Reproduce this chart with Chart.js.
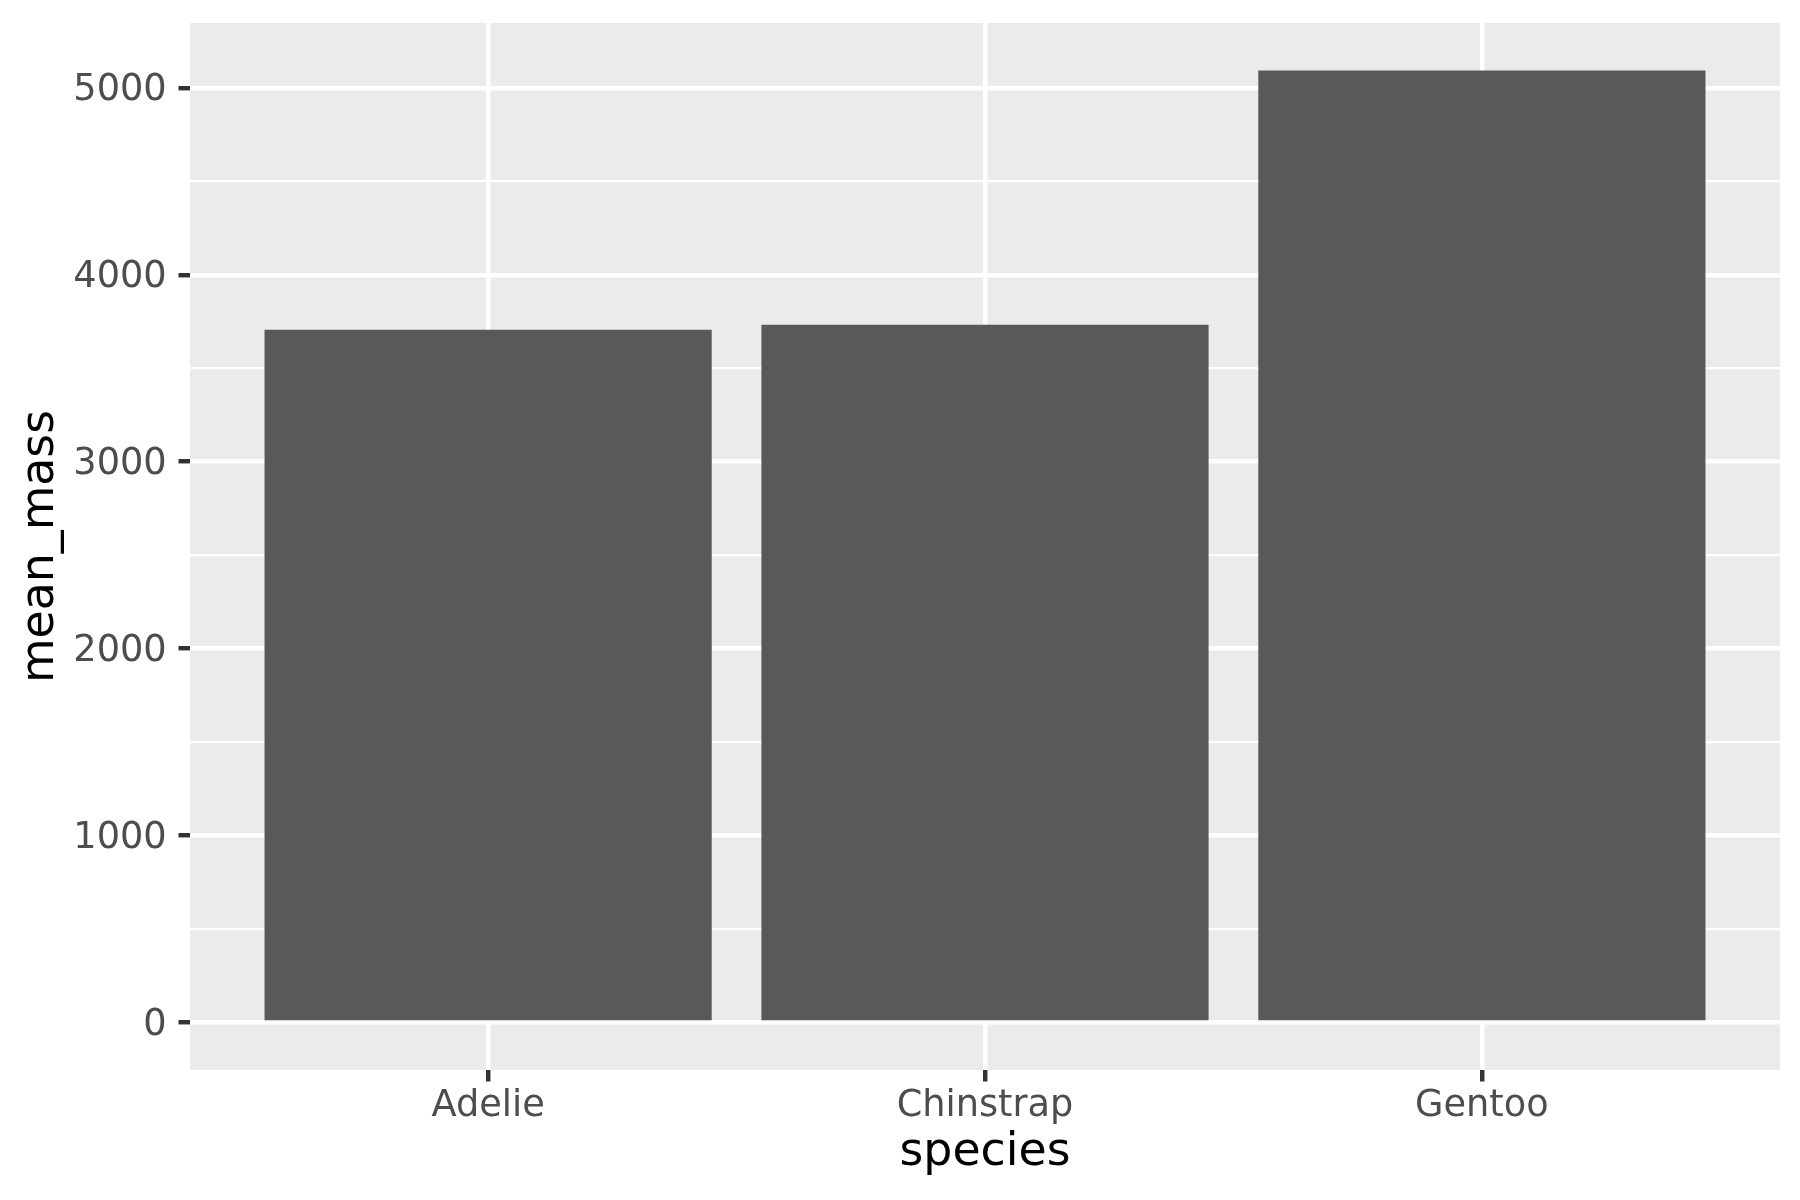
<!DOCTYPE html>
<html>
<head>
<meta charset="utf-8">
<script src="https://cdn.jsdelivr.net/npm/chart.js@4"></script>
<style>
  html, body { margin: 0; padding: 0; background: #ffffff; }
  #wrap { width: 1800px; height: 1200px; }
</style>
</head>
<body>
<div id="wrap"><canvas id="c" width="1800" height="1200"></canvas></div>
<script>
// ---- data ----
const categories = ["Adelie", "Chinstrap", "Gentoo"];
const meanMass = [3706.16, 3733.09, 5092.44];
const yMajorTicks = [0, 1000, 2000, 3000, 4000, 5000];
const yMinorTicks = [500, 1500, 2500, 3500, 4500];
const xTitle = "species";
const yTitle = "mean_mass";

// ggplot-style expansion
const yMaxData = Math.max(...meanMass);
const yMinLim = 0 - 0.05 * yMaxData;
const yMaxLim = yMaxData + 0.05 * yMaxData;

const FONT = "'DejaVu Sans', sans-serif";
const PANEL_BG = "#EBEBEB";
const BAR = "#595959";
const MAJOR_W = 4.45, MINOR_W = 2.22;

const panelBg = {
  id: 'panelBg',
  beforeDraw(chart) {
    const {ctx, chartArea: a} = chart;
    ctx.save();
    ctx.fillStyle = PANEL_BG;
    ctx.fillRect(a.left, a.top, a.right - a.left, a.bottom - a.top);
    ctx.restore();
  }
};

const isMajorY = v => yMajorTicks.includes(v);

new Chart(document.getElementById('c'), {
  type: 'bar',
  data: {
    datasets: [{
      data: categories.map((c, i) => ({x: i, y: meanMass[i]})),
      backgroundColor: BAR,
      borderWidth: 0,
      barPercentage: 0.9,
      categoryPercentage: 1.0
    }]
  },
  options: {
    responsive: false,
    animation: false,
    devicePixelRatio: 1,
    layout: { padding: { top: 23, right: 20, left: 0, bottom: 0 } },
    plugins: { legend: { display: false }, tooltip: { enabled: false } },
    scales: {
      x: {
        type: 'linear',
        offset: false,
        min: -0.6,
        max: categories.length - 1 + 0.6,
        afterBuildTicks(scale) { scale.ticks = categories.map((c, i) => ({value: i})); },
        afterFit(scale) { scale.height = 130; scale.paddingLeft = 0; scale.paddingRight = 0; },
        border: { display: false },
        grid: {
          offset: false,
          color: '#FFFFFF',
          lineWidth: MAJOR_W,
          drawTicks: true,
          tickLength: 11.5,
          tickColor: '#333333',
          tickWidth: MAJOR_W
        },
        ticks: {
          autoSkip: false,
          maxRotation: 0,
          padding: 3,
          color: '#4D4D4D',
          font: { family: FONT, size: 36.7 },
          callback: v => categories[v] ?? ''
        },
        title: {
          display: true,
          text: xTitle,
          color: '#000000',
          font: { family: FONT, size: 45.8 },
          padding: { top: 0, bottom: 19 }
        }
      },
      y: {
        type: 'linear',
        min: yMinLim,
        max: yMaxLim,
        afterBuildTicks(scale) {
          scale.ticks = [...yMajorTicks, ...yMinorTicks].sort((a, b) => a - b).map(v => ({value: v}));
        },
        afterFit(scale) { scale.width = 190; scale.paddingTop = 0; scale.paddingBottom = 0; },
        border: { display: false },
        grid: {
          color: '#FFFFFF',
          lineWidth: ctx => isMajorY(ctx.tick.value) ? MAJOR_W : MINOR_W,
          drawTicks: true,
          tickLength: 11.5,
          tickColor: ctx => isMajorY(ctx.tick.value) ? '#333333' : 'rgba(0,0,0,0)',
          tickWidth: MAJOR_W
        },
        ticks: {
          autoSkip: false,
          padding: 11.8,
          labelOffset: 3,
          color: '#4D4D4D',
          font: { family: FONT, size: 36.7 },
          callback: v => isMajorY(v) ? String(v) : ''
        },
        title: {
          display: true,
          text: yTitle,
          color: '#000000',
          font: { family: FONT, size: 45.8 },
          padding: { top: 14, bottom: 0 }
        }
      }
    }
  },
  plugins: [panelBg]
});
</script>
</body>
</html>
